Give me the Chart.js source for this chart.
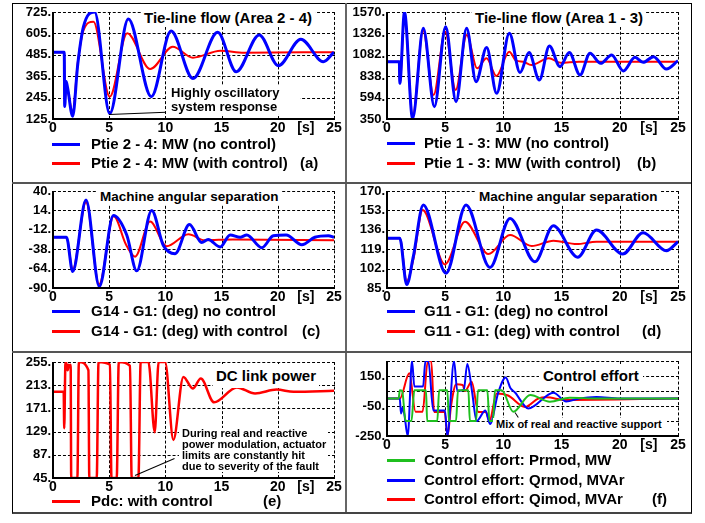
<!DOCTYPE html>
<html>
<head>
<meta charset="utf-8">
<script src="https://cdn.jsdelivr.net/npm/chart.js@4.4.1/dist/chart.umd.min.js"></script>
<style>
  body { margin: 0; width: 705px; height: 523px; background: #fff; position: relative; overflow: hidden;
         font-family: "Liberation Sans", Arial, sans-serif; font-weight: bold; color: #000; }
  canvas { position: absolute; }
  .rule { position: absolute; }
  .layer { position: absolute; left: 0; top: 0; width: 705px; height: 523px; }
  .gx { position: absolute; width: 0; border-left: 1px dashed #000; }
  .gy { position: absolute; height: 0; border-top: 1px dashed #000; }
  .ax { position: absolute; background: #000; }
  .lg { position: absolute; font-size: 15px; line-height: 18px; white-space: nowrap; }
  .sw { position: absolute; width: 28px; height: 3px; }
  .tt { position: absolute; background: #fff; white-space: nowrap; }
</style>
</head>
<body>
<!-- frame -->
<div class="rule" style="left:12px;top:3px;width:678px;height:508px;border:1px solid #000;border-bottom:2px solid #444;"></div>
<div class="rule" style="left:345px;top:3px;width:2px;height:509px;background:#666;"></div>
<div class="rule" style="left:12px;top:182px;width:679px;height:2px;background:#555;"></div>
<div class="rule" style="left:12px;top:351px;width:679px;height:2px;background:#555;"></div>

<div class="layer" id="under"></div>
<canvas id="cA"></canvas>
<canvas id="cB"></canvas>
<canvas id="cC"></canvas>
<canvas id="cD"></canvas>
<canvas id="cE"></canvas>
<canvas id="cF"></canvas>
<div class="layer" id="over"></div>

<!-- titles and notes -->
<div class="tt" style="left:141px;top:9px;font-size:15px;line-height:18px;padding:0 3px;">Tie-line flow (Area 2 - 4)</div>
<div class="tt" style="left:472px;top:9px;font-size:15px;line-height:18px;padding:0 3px;">Tie-line flow (Area 1 - 3)</div>
<div class="tt" style="left:97px;top:189px;font-size:13.5px;line-height:16px;padding:0 3px;">Machine angular separation</div>
<div class="tt" style="left:476px;top:189px;font-size:13.5px;line-height:16px;padding:0 3px;">Machine angular separation</div>
<div class="tt" style="left:213px;top:364px;font-size:15px;line-height:24px;padding:0 3px;">DC link power</div>
<div class="tt" style="left:539px;top:366px;font-size:15px;line-height:20px;padding:0 4px;">Control effort</div>
<div class="tt" style="left:167px;top:86px;width:129px;font-size:13px;line-height:14px;padding-left:4px;">Highly oscillatory<br>system response</div>
<div class="tt" style="left:179px;top:428px;width:146px;font-size:11px;line-height:11px;padding-left:3px;">During real and reactive<br>power modulation, actuator<br>limits are constantly hit<br>due to severity of the fault</div>
<div class="tt" style="left:493px;top:418px;width:171px;font-size:11px;line-height:13px;padding-left:3px;">Mix of real and reactive support</div>

<!-- legends -->
<div class="sw" style="left:52px;top:143px;background:#0000ff;"></div>
<div class="lg" style="left:91px;top:135px;">Ptie 2 - 4: MW (no control)</div>
<div class="sw" style="left:52px;top:162px;background:#ff0000;"></div>
<div class="lg" style="left:91px;top:154px;">Ptie 2 - 4: MW (with control)</div>
<div class="lg" style="left:300px;top:154px;">(a)</div>

<div class="sw" style="left:387px;top:142px;background:#0000ff;"></div>
<div class="lg" style="left:424px;top:134px;">Ptie 1 - 3: MW (no control)</div>
<div class="sw" style="left:387px;top:162px;background:#ff0000;"></div>
<div class="lg" style="left:424px;top:154px;">Ptie 1 - 3: MW (with control)</div>
<div class="lg" style="left:637px;top:154px;">(b)</div>

<div class="sw" style="left:52px;top:310px;background:#0000ff;"></div>
<div class="lg" style="left:91px;top:302px;">G14 - G1: (deg) no control</div>
<div class="sw" style="left:52px;top:330px;background:#ff0000;"></div>
<div class="lg" style="left:91px;top:322px;">G14 - G1: (deg) with control</div>
<div class="lg" style="left:302px;top:322px;">(c)</div>

<div class="sw" style="left:387px;top:310px;background:#0000ff;"></div>
<div class="lg" style="left:424px;top:302px;">G11 - G1: (deg) no control</div>
<div class="sw" style="left:387px;top:330px;background:#ff0000;"></div>
<div class="lg" style="left:424px;top:322px;">G11 - G1: (deg) with control</div>
<div class="lg" style="left:642px;top:322px;">(d)</div>

<div class="sw" style="left:52px;top:500px;background:#ff0000;"></div>
<div class="lg" style="left:91px;top:492px;">Pdc: with control</div>
<div class="lg" style="left:263px;top:492px;">(e)</div>

<div class="sw" style="left:387px;top:459px;background:#1fbf1f;"></div>
<div class="lg" style="left:424px;top:451px;">Control effort: Prmod, MW</div>
<div class="sw" style="left:387px;top:479px;background:#0000ff;"></div>
<div class="lg" style="left:424px;top:471px;">Control effort: Qrmod, MVAr</div>
<div class="sw" style="left:387px;top:498px;background:#ff0000;"></div>
<div class="lg" style="left:424px;top:490px;">Control effort: Qimod, MVAr</div>
<div class="lg" style="left:652px;top:490px;">(f)</div>

<script>
// time axis
const xTicks = [0, 5, 10, 15, 20, 22.5, 25];
const xTickLabels = ['0', '5', '10', '15', '20', '[s]', '25'];

// (a) tie-line flow area 2-4
const yTicksA = [125, 245, 365, 485, 605, 725];
const tA1 = [0, 1.0, 1.04, 1.17, 1.3, 1.75, 2.2, 2.7, 3.7, 5.05, 6.7, 8.75, 10.5, 12.45, 14.65, 16.3, 18.35, 20.05, 22.05, 24.05, 25];
const pA1 = [500, 500, 195, 335, 300, 140, 430, 640, 725, 155, 686, 250, 618, 352, 611, 390, 596, 424, 572, 446, 500];
const tA2 = [0, 1.0, 1.04, 1.17, 1.3, 1.75, 2.2, 2.7, 3.6, 5.05, 6.6, 8.65, 10.65, 12.45, 14.9, 17, 25];
const pA2 = [500, 500, 210, 320, 290, 165, 440, 620, 671, 250, 606, 405, 530, 469, 508, 497, 500];

// (b) tie-line flow area 1-3
const yTicksB = [350, 594, 838, 1082, 1326, 1570];
const tB1 = [0, 1.06, 1.1, 1.5, 2.2, 3.12, 4.07, 5.04, 5.93, 6.84, 7.65, 8.56, 9.42, 10.51, 11.43, 12.2, 13.09, 13.95, 14.86, 15.66, 16.58, 17.44, 18.36, 19.3, 20.3, 21.3, 22.0, 22.9, 24.0, 25];
const pB1 = [1004, 1004, 757, 1570, 355, 1384, 491, 1403, 548, 1384, 776, 1164, 643, 1327, 879, 1107, 795, 1183, 947, 1107, 852, 1099, 985, 1080, 898, 1053, 996, 1061, 920, 1015];
const tB2 = [0, 1.06, 1.1, 1.5, 2.2, 3.1, 4.0, 5.0, 5.9, 6.85, 7.75, 8.55, 9.4, 10.5, 11.1, 11.7, 12.4, 13.9, 14.9, 16.5, 25];
const pB2 = [1004, 1004, 760, 1540, 380, 1360, 624, 1346, 681, 1308, 928, 1042, 840, 1118, 1015, 1004, 966, 1042, 992, 1004, 1004];

// (c) G14 - G1 angle
const yTicksC = [-90, -64, -38, -12, 14, 40];
const tC1 = [0, 1.2, 1.75, 2.94, 4.12, 5.37, 6.56, 7.45, 8.78, 9.82, 10.86, 12.14, 13.23, 13.8, 14.87, 15.76, 16.65, 17.24, 18.58, 19.6, 20.74, 22.14, 23.3, 24.5, 25];
const dC1 = [-22, -22, -68, 28, -88, 7, -19, -67, 14, -33, -44, -5, -29, -25, -35, -19, -22, -19, -36, -20, -19, -32, -22, -20, -22];
const tC2 = [0, 1.2, 1.75, 2.94, 4.1, 5.4, 6.5, 7.3, 8.64, 10.1, 12.05, 13.5, 16, 25];
const dC2 = [-22, -22, -65, 25, -85, 6, -32, -48, -1, -34, -18, -26, -25, -26];

// (d) G11 - G1 angle
const yTicksD = [85, 102, 119, 136, 153, 170];
const tD1 = [0, 1.1, 1.69, 2.26, 3.12, 5.07, 6.79, 8.85, 10.57, 12.71, 14.29, 16.38, 18.0, 20.25, 22.0, 24.0, 25];
const dD1 = [128.5, 128.5, 88, 112.5, 157.7, 98, 157.7, 103, 146, 108, 139.6, 112, 135.8, 114.8, 133.5, 117.7, 125.6];
const tD2 = [0, 1.1, 1.7, 2.3, 3.06, 4.98, 6.7, 8.7, 10.57, 12.43, 14.3, 16.3, 18, 25];
const dD2 = [128.5, 128.5, 91, 112, 153.3, 105.7, 143, 114.8, 131.4, 121.8, 126.5, 123.5, 125.6, 125.6];

// (e) DC link power
const yTicksE = [45, 87, 129, 171, 213, 255];
const tE = [0, 0.95, 1.0, 1.1, 1.16, 1.3, 1.4, 1.5, 1.57, 1.62, 2.17, 2.3, 3.15, 3.23, 3.89, 4.05, 5.07, 5.2, 5.67, 5.85, 6.85, 7.0, 7.6, 7.8, 8.49, 9.05, 9.4, 9.97, 10.71, 11.6, 12.43, 13.15, 14.33, 16.35, 17.98, 19.9, 21.4, 25];
const pdcE = [201, 201, 135, 250, 255, 240, 250, 245, 250, 45, 45, 255, 240, 45, 45, 255, 250, 45, 45, 255, 248, 45, 45, 255, 255, 128, 255, 255, 114, 228, 207, 225, 182, 209, 198, 205, 201, 203];

// (f) control effort
const yTicksF = [-250, -150, -50, 50, 150, 250];
const tFp = [0, 1.0, 1.1, 1.3, 1.6, 2.1, 2.35, 3.35, 3.45, 4.32, 4.48, 5.18, 5.33, 5.93, 6.1, 6.99, 7.12, 7.65, 7.82, 8.62, 8.8, 9.1, 9.28, 9.85, 10.85, 12.3, 14.0, 15.7, 18, 25];
const prF = [0, 0, 55, 50, -150, -150, 55, 55, -150, -150, 55, 55, -150, -150, 55, 55, -150, -150, 55, 55, -150, -150, 55, 55, -88, 23, -21, 5, 0, 0];
const tFq = [0, 1.1, 1.2, 1.35, 1.5, 1.78, 2.15, 2.35, 3.1, 3.3, 3.55, 3.98, 4.98, 5.18, 5.76, 6.04, 6.6, 6.9, 7.3, 7.7, 8.45, 8.85, 9.56, 10.2, 10.6, 11.0, 12.14, 14.3, 15.4, 16.5, 18, 20, 25];
const qrF = [0, 0, -100, -60, -110, -250, 250, 80, 80, 250, 250, -80, -80, -250, 250, 50, 60, 230, 50, -150, -80, -170, 40, 140, 70, 40, -66, 39, -20, 0, 10, 0, 0];
const tFi = [0, 1.1, 1.92, 2.45, 3.06, 3.5, 3.8, 4.05, 4.95, 5.2, 5.5, 5.95, 6.5, 6.7, 7.27, 7.85, 8.5, 8.8, 9.42, 10.4, 11.86, 13.0, 13.7, 15.3, 25];
const qiF = [0, 0, 168, -88, -88, 250, 250, -90, -90, -250, -50, 95, 90, 50, 112, -90, -90, -150, 34, 20, -56, 0, 8, -10, 0];

const BLUE = '#0000ff', RED = '#ff0000', GREEN = '#1fbf1f';
const FONT = '"Liberation Sans", Arial, sans-serif';
const under = document.getElementById('under');
const over = document.getElementById('over');

function addDiv(parent, cls, x, y, w, h, extra) {
    const d = document.createElement('div');
    d.className = cls;
    d.style.left = x + 'px';
    d.style.top = y + 'px';
    if (w !== null) d.style.width = w + 'px';
    if (h !== null) d.style.height = h + 'px';
    if (extra) Object.assign(d.style, extra);
    parent.appendChild(d);
    return d;
}

// grid under the curves, axes and pointer lines over them, placed from the chart's scales
function decorate(chart, ox, oy, yTicks, lines) {
    const a = chart.chartArea;
    const xs = chart.scales.x, ys = chart.scales.y;
    const L = ox + Math.round(a.left), R = ox + Math.round(a.right);
    const T = oy + Math.round(a.top), B = oy + Math.round(a.bottom);
    xTicks.forEach(v => {
        if (v === 22.5 || v === 0) return;
        const px = ox + Math.round(xs.getPixelForValue(v));
        addDiv(under, 'gx', px, T, null, B - T);
    });
    yTicks.forEach((v, i) => {
        if (i === 0) return;
        const py = oy + Math.round(ys.getPixelForValue(v));
        addDiv(under, 'gy', L, py, R - L + 1, null);
    });
    addDiv(over, 'ax', L - 1, T, 2, B - T + 1);
    addDiv(over, 'ax', L - 1, B - 1, R - L + 2, 2);
    lines.forEach(l => {
        const x1 = ox + xs.getPixelForValue(l[0]), y1 = oy + ys.getPixelForValue(l[1]);
        const x2 = ox + xs.getPixelForValue(l[2]), y2 = oy + ys.getPixelForValue(l[3]);
        const len = Math.hypot(x2 - x1, y2 - y1);
        const ang = Math.atan2(y2 - y1, x2 - x1) * 180 / Math.PI;
        addDiv(over, 'ax', x1, y1 - 0.5, len, 1,
            { transformOrigin: '0 50%', transform: 'rotate(' + ang + 'deg)' });
    });
}

function series(t, v, color, width) {
    return {
        data: t.map((x, i) => ({ x: x, y: v[i] })),
        borderColor: color,
        borderWidth: width,
        pointRadius: 0,
        fill: false,
        cubicInterpolationMode: 'monotone'
    };
}

// box = plot area in page pixels
function makePanel(id, box, yTicks, sets, lines) {
    const padL = 46, padT = 10, padR = 14, padB = 22;
    const cv = document.getElementById(id);
    const ox = box.x - padL, oy = box.y - padT;
    cv.width = box.w + padL + padR;
    cv.height = box.h + padT + padB;
    cv.style.left = ox + 'px';
    cv.style.top = oy + 'px';

    const chart = new Chart(cv, {
        type: 'line',
        data: { datasets: sets },
        options: {
            responsive: false,
            animation: false,
            devicePixelRatio: 1,
            events: [],
            layout: { padding: { top: padT, right: padR, left: 0, bottom: 0 } },
            plugins: { legend: { display: false }, tooltip: { enabled: false } },
            scales: {
                x: {
                    type: 'linear', min: 0, max: 25,
                    afterBuildTicks: s => { s.ticks = xTicks.map(v => ({ value: v })); },
                    afterFit: s => { s.height = padB; },
                    ticks: {
                        autoSkip: false, maxRotation: 0, padding: 1, color: '#000',
                        font: { family: FONT, size: 14, weight: 'bold' },
                        callback: v => xTickLabels[xTicks.indexOf(v)]
                    },
                    grid: { display: false, drawTicks: false },
                    border: { display: false }
                },
                y: {
                    min: yTicks[0], max: yTicks[yTicks.length - 1],
                    afterBuildTicks: s => { s.ticks = yTicks.map(v => ({ value: v })); },
                    afterFit: s => { s.width = padL; },
                    ticks: {
                        padding: 2, color: '#000',
                        font: { family: FONT, size: 13, weight: 'bold' },
                        callback: v => v + '.'
                    },
                    grid: { display: false, drawTicks: false },
                    border: { display: false }
                }
            }
        }
    });
    decorate(chart, ox, oy, yTicks, lines);
}

makePanel('cA', { x: 53, y: 12, w: 281, h: 107 }, yTicksA,
    [series(tA1, pA1, BLUE, 3), series(tA2, pA2, RED, 2)],
    [[4.95, 152, 10, 164]]);
makePanel('cB', { x: 387, y: 12, w: 291, h: 107 }, yTicksB,
    [series(tB1, pB1, BLUE, 3), series(tB2, pB2, RED, 2)], []);
makePanel('cC', { x: 53, y: 191, w: 281, h: 97 }, yTicksC,
    [series(tC1, dC1, BLUE, 3), series(tC2, dC2, RED, 2)], []);
makePanel('cD', { x: 387, y: 191, w: 291, h: 97 }, yTicksD,
    [series(tD1, dD1, BLUE, 3), series(tD2, dD2, RED, 2)], []);
makePanel('cE', { x: 53, y: 362, w: 281, h: 116 }, yTicksE,
    [series(tE, pdcE, RED, 2.5)],
    [[7.3, 50, 10.85, 81]]);
makePanel('cF', { x: 387, y: 361, w: 291, h: 75 }, yTicksF,
    [series(tFp, prF, GREEN, 2), series(tFq, qrF, BLUE, 2), series(tFi, qiF, RED, 2)],
    [[11.0, -95, 11.3, -130]]);
</script>
</body>
</html>
